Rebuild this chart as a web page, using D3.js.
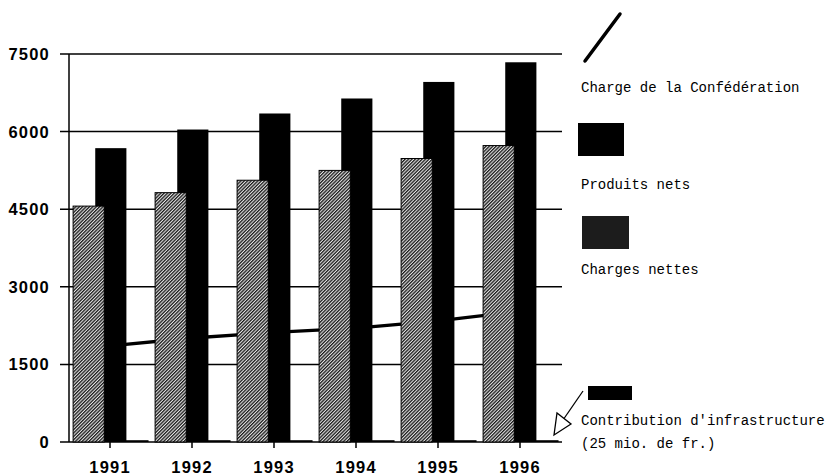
<!DOCTYPE html>
<html>
<head>
<meta charset="utf-8">
<script src="https://cdn.jsdelivr.net/npm/d3@7"></script>
<style>
    body { margin: 0; background: #fff; }
    svg { display: block; }
    .tick-label { font-family: "Liberation Sans", Arial, sans-serif; font-weight: bold; font-size: 16.5px; letter-spacing: 1.2px; fill: #000; }
    .legend-label { font-family: "Liberation Mono", "Courier New", monospace; font-size: 14px; fill: #000; }
</style>
</head>
<body>
<script>

// data
let years = ["1991", "1992", "1993", "1994", "1995", "1996"];
let chargesNettes = [4560, 4820, 5060, 5250, 5480, 5730];
let produitsNets = [5680, 6040, 6350, 6640, 6960, 7340];
let contributionInfra = [25, 25, 25, 25, 25, 25];
let chargeConfederation = [1860, 2010, 2120, 2200, 2340, 2530];
let yTicks = [0, 1500, 3000, 4500, 6000, 7500];

let legendLabels = ["Charge de la Confédération", "Produits nets", "Charges nettes",
                    "Contribution d'infrastructure", "(25 mio. de fr.)"];

var w = 831;
var h = 475;

var svg = d3.select("body")
    .append("svg")
    .attr("width", w)
    .attr("height", h);

// hatched fill for the grey bars
var defs = svg.append("defs");
var pat = defs.append("pattern")
    .attr("id", "hatch")
    .attr("patternUnits", "userSpaceOnUse")
    .attr("width", 2.4)
    .attr("height", 2.4)
    .attr("patternTransform", "rotate(45)");
pat.append("rect").attr("width", 2.4).attr("height", 2.4).attr("fill", "#e4e4e4");
pat.append("rect").attr("width", 1.3).attr("height", 2.4).attr("fill", "#1a1a1a");

var xScale = d3.scaleBand()
    .domain(years)
    .range([69, 561])
    .padding(0);

var bw = xScale.bandwidth();

// offset of each series inside a year (bars overlap a bit)
var inner = d3.scaleLinear()
    .domain([0, 1])
    .range([bw * 0.05, bw * 0.32]);
var barW = bw * 0.38;

var yScale = d3.scaleLinear()
    .domain([0, 7500])
    .range([442, 54]);

// gridlines
svg.selectAll(".grid")
    .data(yTicks)
    .enter()
    .append("line")
    .attr("class", "grid")
    .attr("x1", 60)
    .attr("x2", 562)
    .attr("y1", function (d) { return yScale(d); })
    .attr("y2", function (d) { return yScale(d); })
    .attr("stroke", "#000")
    .attr("stroke-width", 1.5);

// y labels
svg.selectAll(".ylab")
    .data(yTicks)
    .enter()
    .append("text")
    .attr("class", "tick-label")
    .attr("x", 50)
    .attr("y", function (d) { return yScale(d); })
    .attr("dy", "0.36em")
    .attr("text-anchor", "end")
    .text(function (d) { return d; });

// line goes behind the bars
var line = d3.line()
    .x(function (d, i) { return xScale(years[i]) + bw / 2; })
    .y(function (d) { return yScale(d); });

svg.append("path")
    .datum(chargeConfederation)
    .attr("d", line)
    .attr("fill", "none")
    .attr("stroke", "#000")
    .attr("stroke-width", 3.3);

// contribution d'infrastructure (tiny)
svg.selectAll(".infra")
    .data(contributionInfra)
    .enter()
    .append("rect")
    .attr("class", "infra")
    .attr("x", function (d, i) { return xScale(years[i]) + inner(2); })
    .attr("y", function (d) { return yScale(d) - 0.5; })
    .attr("width", barW)
    .attr("height", function (d) { return yScale(0) - yScale(d) + 0.5; })
    .attr("fill", "#000");

// produits nets
svg.selectAll(".produits")
    .data(produitsNets)
    .enter()
    .append("rect")
    .attr("class", "produits")
    .attr("x", function (d, i) { return xScale(years[i]) + inner(1); })
    .attr("y", function (d) { return yScale(d); })
    .attr("width", barW)
    .attr("height", function (d) { return yScale(0) - yScale(d); })
    .attr("fill", "#000");

// charges nettes, in front
svg.selectAll(".charges")
    .data(chargesNettes)
    .enter()
    .append("rect")
    .attr("class", "charges")
    .attr("x", function (d, i) { return xScale(years[i]) + inner(0); })
    .attr("y", function (d) { return yScale(d); })
    .attr("width", barW)
    .attr("height", function (d) { return yScale(0) - yScale(d); })
    .attr("fill", "url(#hatch)")
    .attr("stroke", "#000")
    .attr("stroke-width", 1);

// y axis line
svg.append("line")
    .attr("x1", 69).attr("x2", 69)
    .attr("y1", yScale(7500)).attr("y2", yScale(0))
    .attr("stroke", "#000")
    .attr("stroke-width", 1.5);

// x axis
var xAxis = d3.axisBottom(xScale).tickSize(6).tickSizeOuter(0);
var gx = svg.append("g")
    .attr("transform", "translate(0," + yScale(0) + ")")
    .call(xAxis);
gx.select(".domain").remove();
gx.selectAll(".tick line").attr("stroke", "#000").attr("stroke-width", 1.5);
gx.selectAll(".tick text")
    .attr("class", "tick-label")
    .attr("y", 31)
    .attr("dy", 0);

// legend
var lx = 581;

svg.append("line")
    .attr("x1", 585).attr("y1", 61)
    .attr("x2", 620).attr("y2", 14)
    .attr("stroke", "#000")
    .attr("stroke-width", 3.5)
    .attr("stroke-linecap", "round");

svg.append("rect")
    .attr("x", 578).attr("y", 123)
    .attr("width", 46).attr("height", 33)
    .attr("fill", "#000");

svg.append("rect")
    .attr("x", 582).attr("y", 216)
    .attr("width", 47).attr("height", 33)
    .attr("fill", "#1c1c1c");

svg.append("rect")
    .attr("x", 588).attr("y", 386)
    .attr("width", 44).attr("height", 14)
    .attr("fill", "#000");

// arrow to the tiny bars
svg.append("line")
    .attr("x1", 583).attr("y1", 391)
    .attr("x2", 563).attr("y2", 420)
    .attr("stroke", "#000")
    .attr("stroke-width", 1.3);
svg.append("path")
    .attr("d", "M554,435 L557,413 L571,424 Z")
    .attr("fill", "#fff")
    .attr("stroke", "#000")
    .attr("stroke-width", 1.3);

var legendY = [92, 189, 274, 425, 448];
svg.selectAll(".legend-label")
    .data(legendLabels)
    .enter()
    .append("text")
    .attr("class", "legend-label")
    .attr("x", lx)
    .attr("y", function (d, i) { return legendY[i]; })
    .text(function (d) { return d; });

</script>
</body>
</html>
